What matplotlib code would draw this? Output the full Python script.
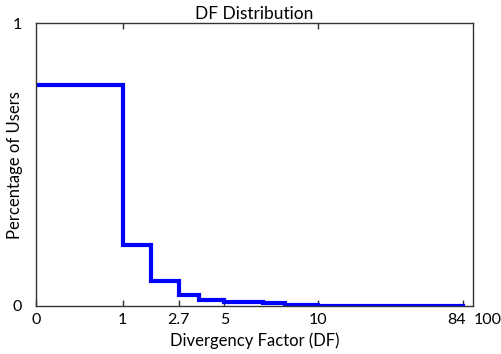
import numpy as np
import matplotlib
matplotlib.use("Agg")
import matplotlib.pyplot as plt
import matplotlib.transforms as mtransforms

# ── データ ──────────────────────────────
# ステップの境界 (DF) と各区間のユーザ割合
edges = [0, 1, 1.86, 2.7, 3.72, 5, 7.07, 8.24, 10, 84]
values = [0.782, 0.216, 0.088, 0.040, 0.021, 0.015, 0.010, 0.004, 0.001]

major_ticks = [1, 10]
minor_ticks = [0, 2.7, 5, 84]
minor_labels = ["0", "2.7", "5", "84"]

# 横軸は目盛値を等間隔でない位置に置いた区分線形スケール
scale_vals = [0, 1, 2.7, 5, 10, 84, 100]
scale_pos = [0.0, 0.198, 0.327, 0.431, 0.645, 0.977, 1.034]


def fwd(x):
    return np.interp(x, scale_vals, scale_pos)


def inv(p):
    return np.interp(p, scale_pos, scale_vals)


XMAX = float(inv(1.0))

plt.rcParams["font.family"] = ["Lato", "DejaVu Sans"]

fig = plt.figure(figsize=(5.02, 3.54), dpi=100)
ax = fig.add_axes([0.0717, 0.1356, 0.8705, 0.7984])
ax.set_xscale("function", functions=(fwd, inv))

# ステップ線
xs = edges
ys = values + [values[-1]]
ax.step(xs, ys, where="post", color="#0000ff", linewidth=3.0, solid_joinstyle="miter")

ax.set_xlim(0, XMAX)
ax.set_ylim(0, 1)

ax.set_xticks(major_ticks)
ax.set_xticklabels([str(t) for t in major_ticks])
ax.set_xticks(minor_ticks, minor=True)
ax.set_xticklabels(minor_labels, minor=True)
ax.set_yticks([0, 1])
ax.set_yticklabels(["0", "1"])

ax.tick_params(axis="x", which="major", direction="in", length=4, width=1,
               top=True, bottom=True, labelsize=11.5, pad=5, color="#333333")
ax.tick_params(axis="x", which="minor", direction="in", length=4, width=1,
               top=False, bottom=True, labelsize=11.5, pad=5, color="#333333")
ax.tick_params(axis="y", which="major", length=0, labelsize=11.5, pad=10)

# "84" のラベルは少し左寄せ
shift = mtransforms.ScaledTranslation(-6 / 100, 0, fig.dpi_scale_trans)
for lbl in ax.get_xticklabels(minor=True):
    if lbl.get_text() == "84":
        lbl.set_transform(lbl.get_transform() + shift)

# 軸範囲外の "100" ラベル
ax.text(100, -0.025, "100", transform=ax.get_xaxis_transform(),
        ha="center", va="top", fontsize=11.5)

for s in ax.spines.values():
    s.set_color("#333333")
    s.set_linewidth(1.0)

ax.set_title("DF Distribution", fontsize=12.5, pad=3)
ax.set_xlabel("Divergency Factor (DF)", fontsize=12, labelpad=4)
ax.set_ylabel("Percentage of Users", fontsize=12)
ax.yaxis.set_label_coords(-0.03, 0.5)

fig.savefig("out.png", dpi=100)
